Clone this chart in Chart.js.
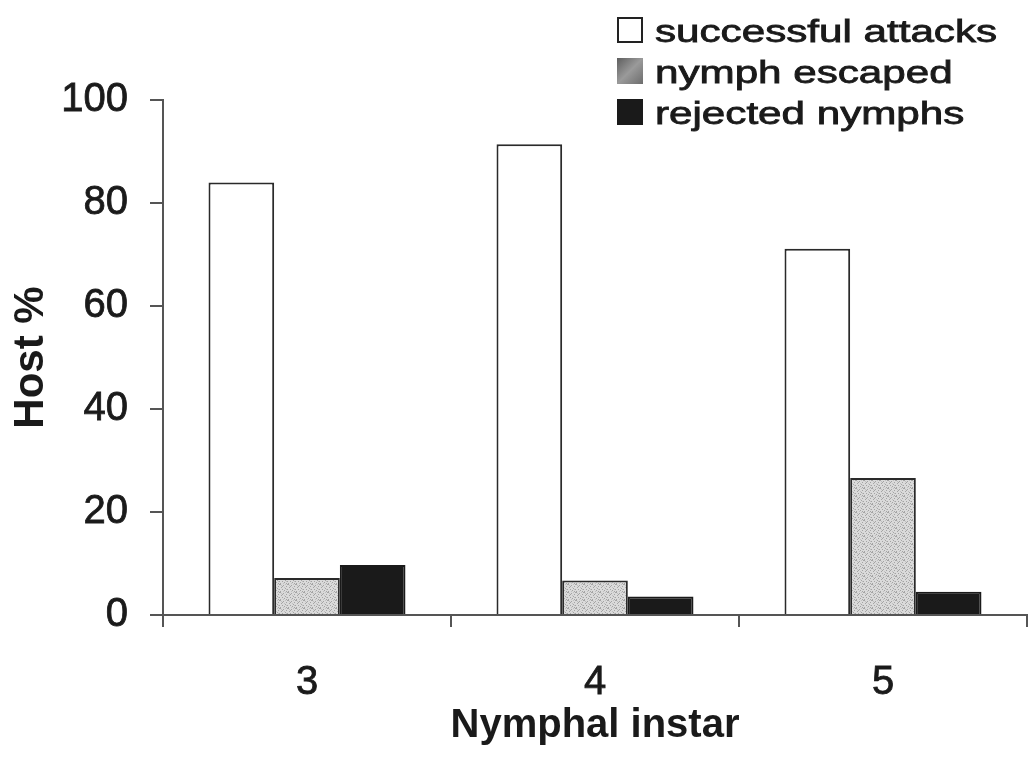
<!DOCTYPE html>
<html>
<head>
<meta charset="utf-8">
<script src="https://cdn.jsdelivr.net/npm/chart.js@4.4.1/dist/chart.umd.min.js"></script>
<style>
  html, body { margin: 0; padding: 0; background: #ffffff; }
  #wrap { width: 1028px; height: 758px; position: relative; }
</style>
</head>
<body>
<div id="wrap"><canvas id="chart"></canvas></div>
<script>
// Nymphal instar categories
const instars = ['3', '4', '5'];

// Host percentages per outcome
const successfulAttacks = [84.0, 91.4, 71.1];
const nymphEscaped = [7.2, 6.7, 26.6];
const rejectedNymphs = [9.7, 3.6, 4.5];

// Value axis tick labels
const hostTicks = [0, 20, 40, 60, 80, 100];

const seriesLabels = ['successful attacks', 'nymph escaped', 'rejected nymphs'];

// Light stippled fill for the "nymph escaped" bars
function makeStipple() {
  const c = document.createElement('canvas');
  c.width = 8; c.height = 8;
  const g = c.getContext('2d');
  g.fillStyle = '#dadada';
  g.fillRect(0, 0, 8, 8);
  const dots = [[0,0],[3,1],[6,2],[1,3],[5,4],[2,5],[7,5],[4,6],[0,7],[6,7],[2,2],[7,0]];
  g.fillStyle = '#a4a4a4';
  dots.forEach(([x, y]) => g.fillRect(x, y, 1, 1));
  g.fillStyle = '#c0c0c0';
  [[1,1],[4,3],[6,5],[3,7],[5,0]].forEach(([x, y]) => g.fillRect(x, y, 1, 1));
  return g.createPattern(c, 'repeat');
}

const ctx = document.getElementById('chart').getContext('2d');
const stipple = makeStipple();

// Legend drawn in the upper right corner, overlapping the plot area
const cornerLegend = {
  id: 'cornerLegend',
  afterDraw(chart) {
    const c = chart.ctx;
    const boxX = 617, boxSize = 26, textX = 655;
    const rowCenters = [30, 71, 112];
    chart.data.datasets.forEach((ds, i) => {
      const cy = rowCenters[i];
      const top = cy - boxSize / 2;
      c.save();
      if (i === 0) {
        c.fillStyle = '#ffffff';
        c.fillRect(boxX, top, boxSize, boxSize);
        c.strokeStyle = '#222222';
        c.lineWidth = 2;
        c.strokeRect(boxX + 1, top + 1, boxSize - 2, boxSize - 2);
      } else if (i === 1) {
        const grad = c.createLinearGradient(boxX, top, boxX + boxSize, top + boxSize);
        grad.addColorStop(0, '#5e5e5e');
        grad.addColorStop(0.5, '#9a9a9a');
        grad.addColorStop(1, '#6c6c6c');
        c.fillStyle = grad;
        c.fillRect(boxX, top, boxSize, boxSize);
      } else {
        c.fillStyle = '#1a1a1a';
        c.fillRect(boxX, top, boxSize, boxSize);
      }
      // label text, set wide
      c.translate(textX, cy + 12);
      c.scale(1.36, 1);
      c.font = '31px "Liberation Sans", Arial, sans-serif';
      c.fillStyle = '#1a1a1a';
      c.strokeStyle = '#1a1a1a';
      c.lineWidth = 0.8;
      c.textAlign = 'left';
      c.textBaseline = 'alphabetic';
      c.fillText(ds.label, 0, 0);
      c.strokeText(ds.label, 0, 0);
      c.restore();
    });
  }
};

new Chart(ctx, {
  type: 'bar',
  data: {
    labels: instars,
    datasets: [
      {
        label: seriesLabels[0],
        data: successfulAttacks,
        backgroundColor: '#ffffff',
        borderColor: '#2a2a2a',
        borderWidth: 2
      },
      {
        label: seriesLabels[1],
        data: nymphEscaped,
        backgroundColor: stipple,
        borderColor: '#2a2a2a',
        borderWidth: 2
      },
      {
        label: seriesLabels[2],
        data: rejectedNymphs,
        backgroundColor: '#1a1a1a',
        borderColor: '#1a1a1a',
        borderWidth: 2
      }
    ]
  },
  options: {
    responsive: true,
    maintainAspectRatio: false,
    animation: false,
    layout: { padding: { top: 100, right: 1, left: 0, bottom: 0 } },
    datasets: {
      bar: { categoryPercentage: 0.684, barPercentage: 1.0, borderSkipped: 'start' }
    },
    plugins: {
      legend: { display: false },
      tooltip: { enabled: false }
    },
    scales: {
      x: {
        offset: true,
        grid: {
          offset: true,
          drawOnChartArea: false,
          drawTicks: true,
          tickLength: 12,
          color: '#555555',
          lineWidth: 2
        },
        border: { display: true, color: '#555555', width: 2 },
        ticks: {
          padding: 32,
          color: '#1a1a1a',
          textStrokeColor: '#1a1a1a',
          textStrokeWidth: 0.8,
          font: { family: '"Liberation Sans", Arial, sans-serif', size: 40 }
        },
        title: {
          display: true,
          text: 'Nymphal instar',
          color: '#1a1a1a',
          padding: { top: 0, bottom: 8 },
          font: { family: '"Liberation Sans", Arial, sans-serif', size: 40, weight: 'bold' }
        },
        afterFit(scale) { scale.height = 143; }
      },
      y: {
        min: 0,
        max: 100,
        afterBuildTicks(scale) { scale.ticks = hostTicks.map(v => ({ value: v })); },
        grid: {
          drawOnChartArea: false,
          drawTicks: true,
          tickLength: 13,
          color: '#555555',
          lineWidth: 2
        },
        border: { display: true, color: '#555555', width: 2 },
        ticks: {
          padding: 22,
          color: '#1a1a1a',
          textStrokeColor: '#1a1a1a',
          textStrokeWidth: 0.8,
          font: { family: '"Liberation Sans", Arial, sans-serif', size: 40 }
        },
        title: {
          display: true,
          text: 'Host %',
          color: '#1a1a1a',
          padding: { top: 6, bottom: 0 },
          font: { family: '"Liberation Sans", Arial, sans-serif', size: 42, weight: 'bold' }
        },
        afterFit(scale) { scale.width = 163; }
      }
    }
  },
  plugins: [cornerLegend]
});
</script>
</body>
</html>
